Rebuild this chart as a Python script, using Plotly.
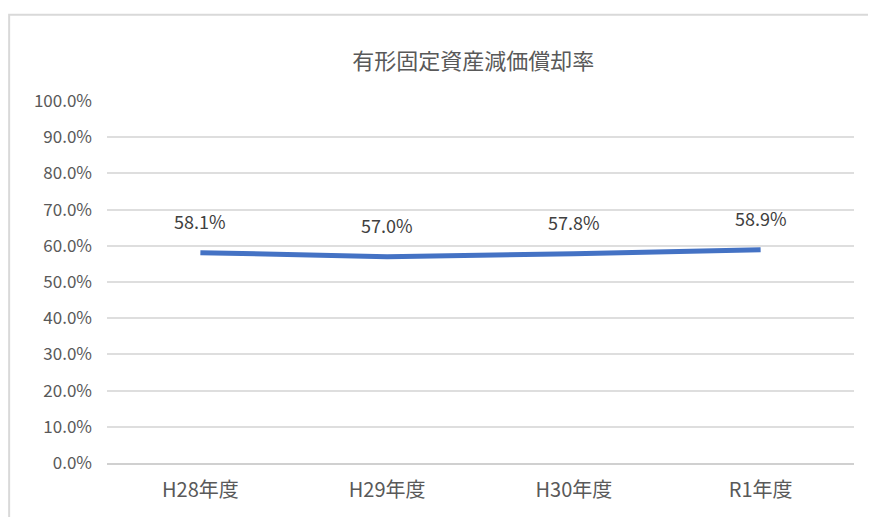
import plotly.graph_objects as go

categories = ["H28年度", "H29年度", "H30年度", "R1年度"]
values = [0.581, 0.570, 0.578, 0.589]
labels = ["58.1%", "57.0%", "57.8%", "58.9%"]
title = "有形固定資産減価償却率"

FONT = "Noto Sans CJK JP"
TXT = "#595959"

fig = go.Figure()
fig.add_trace(go.Scatter(
    x=categories, y=values, mode="lines",
    line=dict(color="#4472C4", width=5),
    hoverinfo="skip", showlegend=False,
))
for c, v, t in zip(categories, values, labels):
    fig.add_annotation(x=c, y=v, text=t, showarrow=False, yshift=32,
                       font=dict(family=FONT, size=18, color="#404040"))

fig.add_shape(type="rect", xref="paper", yref="paper",
              x0=-0.131, x1=1.2, y0=-0.3, y1=1.238,
              line=dict(color="#d9d9d9", width=2), fillcolor="rgba(0,0,0,0)",
              layer="below")

fig.update_layout(
    width=876, height=517,
    margin=dict(l=99, r=30, t=93, b=62),
    paper_bgcolor="white", plot_bgcolor="white",
    title=dict(text=title, x=0.531, xanchor="center", y=0.897, yanchor="middle",
               font=dict(family=FONT, size=22, color=TXT)),
    xaxis=dict(type="category", range=[-0.5, 3.5], showgrid=False,
               showline=True, linecolor="#d0d0d0", linewidth=2,
               ticks="", tickfont=dict(family=FONT, size=20, color=TXT),
               ticklabelstandoff=8),
    yaxis=dict(range=[0, 1], dtick=0.1, tickformat=".1%",
               showgrid=True, gridcolor="#dedede", gridwidth=1.5,
               zeroline=False, ticks="",
               tickfont=dict(family=FONT, size=17, color=TXT),
               ticklabelstandoff=14),
)

fig.write_html("out.html")
